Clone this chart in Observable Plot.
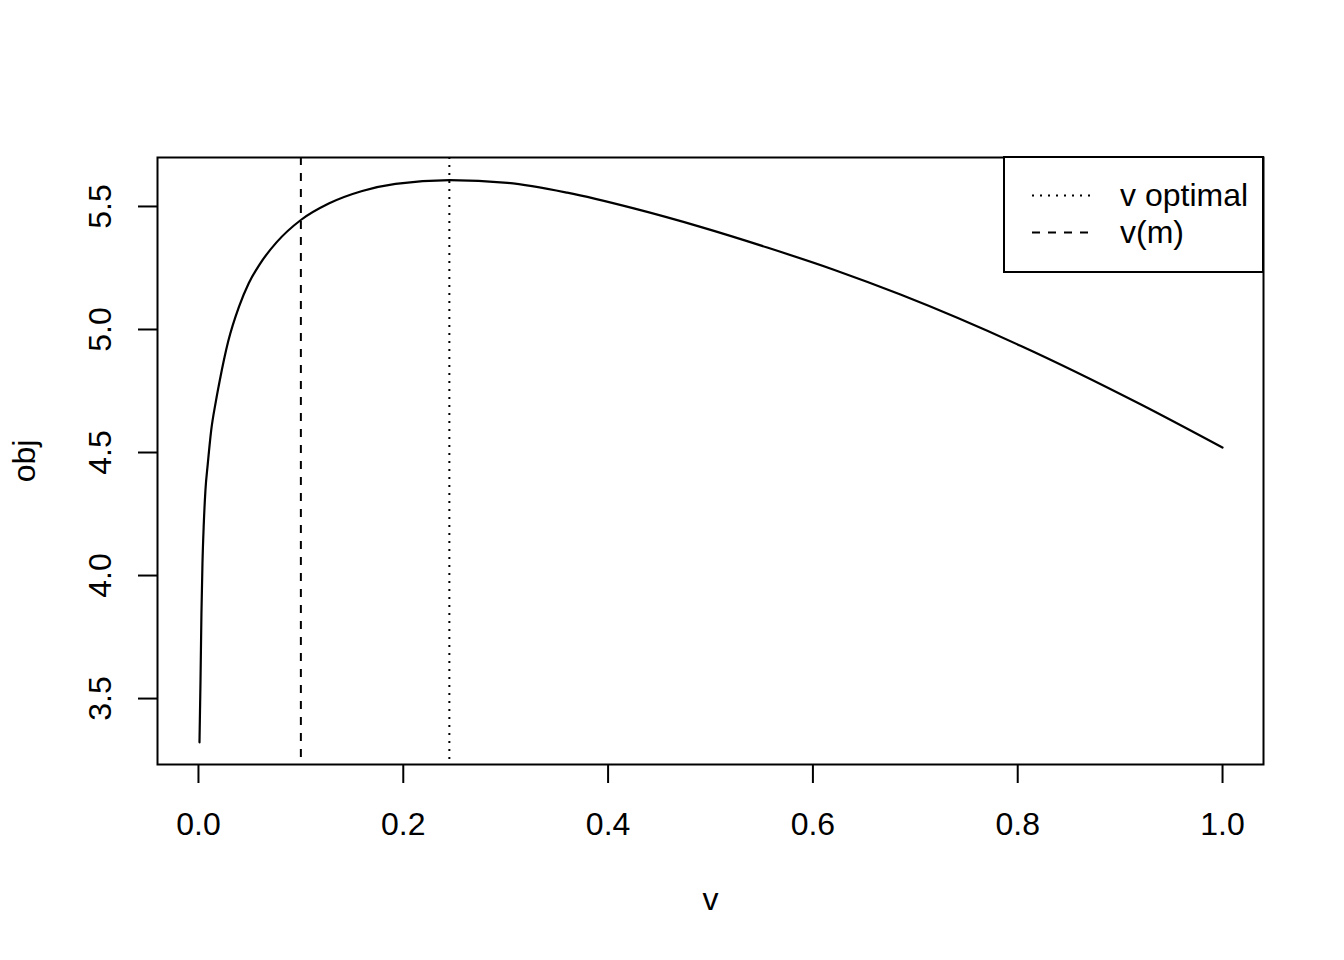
<!DOCTYPE html>
<html><head><meta charset="utf-8">
<script src="https://cdn.jsdelivr.net/npm/d3@7"></script>
<script src="https://cdn.jsdelivr.net/npm/@observablehq/plot@0.6"></script>
<style>body{margin:0;background:#fff;} #chart svg{display:block;}</style>
</head><body><div id="chart"></div>
<script>
// Curve samples
const vValues = [0.001, 0.002, 0.0029, 0.0039, 0.0052, 0.0068, 0.0091, 0.0124, 0.0169, 0.0208, 0.0290, 0.0396, 0.0491, 0.0601, 0.0762, 0.1003, 0.1272, 0.1599, 0.1924, 0.2454, 0.3018, 0.3601, 0.4251, 0.4902, 0.5554, 0.6204, 0.6855, 0.8027, 0.9199, 1.0];
const objValues = [3.322, 3.573, 3.844, 4.048, 4.210, 4.346, 4.454, 4.589, 4.706, 4.793, 4.951, 5.093, 5.188, 5.267, 5.354, 5.446, 5.512, 5.563, 5.592, 5.607, 5.596, 5.556, 5.492, 5.417, 5.333, 5.243, 5.142, 4.934, 4.696, 4.520];
const xTicks = [0.0, 0.2, 0.4, 0.6, 0.8, 1.0];
const yTicks = [3.5, 4.0, 4.5, 5.0, 5.5];
const vOptimal = 0.245;
const vM = 0.1;
const legendLabels = ["v optimal", "v(m)"];
const legendDash = ["2,6", "8,8"];
const xLabel = "v";
const yLabel = "obj";

const data = vValues.map((v, i) => ({v, obj: objValues[i]}));
const font = '"Liberation Sans", Arial, Helvetica, sans-serif';
const fs = 32;
const W = 1344, H = 960, mL = 157, mR = 81, mT = 157, mB = 196;

const plot = Plot.plot({
  width: W, height: H,
  marginLeft: mL, marginRight: mR, marginTop: mT, marginBottom: mB,
  style: {fontFamily: font, fontSize: fs + "px", background: "white", color: "black"},
  x: {domain: [-0.04, 1.04]},
  y: {domain: [3.232, 5.699]},
  marks: [
    Plot.ruleX([vM], {stroke: "black", strokeWidth: 2, strokeDasharray: "8,8"}),
    Plot.ruleX([vOptimal], {stroke: "black", strokeWidth: 2, strokeDasharray: "2,6"}),
    Plot.line(data, {x: "v", y: "obj", stroke: "black", strokeWidth: 2.2, curve: "monotone-x"}),
    Plot.frame({stroke: "black", strokeWidth: 2}),
    Plot.axisX({ticks: xTicks, tickSize: 19, tickFormat: () => "", strokeWidth: 2, label: null}),
    Plot.axisY({ticks: yTicks, tickSize: 19, tickFormat: () => "", strokeWidth: 2, label: null}),
    Plot.text(xTicks, {x: d => d, text: d => d.toFixed(1), frameAnchor: "bottom", dy: 70, lineAnchor: "bottom", fontSize: fs}),
    Plot.text(yTicks, {y: d => d, text: d => d.toFixed(1), frameAnchor: "left", dx: -47, rotate: -90, lineAnchor: "bottom", textAnchor: "middle", fontSize: fs}),
    Plot.text([xLabel], {text: d => d, frameAnchor: "bottom", dy: 145, lineAnchor: "bottom", fontSize: fs}),
    Plot.text([yLabel], {text: d => d, frameAnchor: "left", dx: -123, rotate: -90, lineAnchor: "bottom", textAnchor: "middle", fontSize: fs})
  ]
});

// Legend (top-right, inside the plot box)
const svgSel = d3.select(plot);
const boxRight = W - mR, boxTop = mT;
const lg = svgSel.append("g").attr("font-family", font).attr("font-size", fs).attr("fill", "black").attr("text-anchor", "start");
lg.append("rect").attr("x", boxRight - 259).attr("y", boxTop).attr("width", 259).attr("height", 115)
  .attr("fill", "white").attr("stroke", "black").attr("stroke-width", 2);
legendLabels.forEach((lab, i) => {
  const cy = boxTop + 38.5 + i * 37;
  lg.append("line").attr("x1", boxRight - 231).attr("x2", boxRight - 173).attr("y1", cy).attr("y2", cy)
    .attr("stroke", "black").attr("stroke-width", 2).attr("stroke-dasharray", legendDash[i]);
  lg.append("text").attr("x", boxRight - 143).attr("y", cy + 10.5).attr("text-anchor", "start").text(lab);
});

document.getElementById("chart").appendChild(plot);
</script>
</body></html>
